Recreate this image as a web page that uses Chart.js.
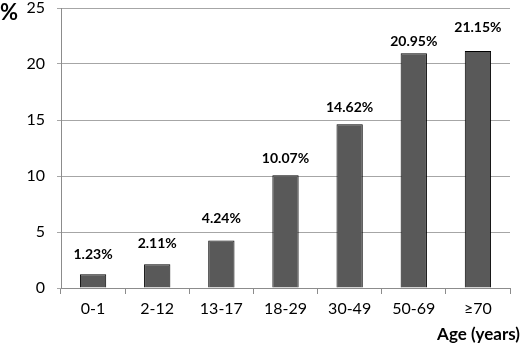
<!DOCTYPE html>
<html><head><meta charset="utf-8">
<script src="https://cdn.jsdelivr.net/npm/chart.js@4/dist/chart.umd.min.js"></script>
<style>html,body{margin:0;padding:0;background:#fff}#wrap{width:520px;height:346px}</style>
</head><body><div id="wrap"><canvas id="c" width="520" height="346"></canvas></div>
<script>
const categories = ["0-1","2-12","13-17","18-29","30-49","50-69","\u226570"];
const percentages = [1.23, 2.11, 4.24, 10.07, 14.62, 20.95, 21.15];
const valueLabels = ["1.23%","2.11%","4.24%","10.07%","14.62%","20.95%","21.15%"];
const yTicks = [0,5,10,15,20,25];
const FONT = "Lato, 'Open Sans', sans-serif";

const labelPlugin = {
  id: 'extras',
  afterDatasetsDraw(chart, args, opts) {
    const ctx = chart.ctx;
    const meta = chart.getDatasetMeta(0);
    ctx.save();
    ctx.fillStyle = '#000';
    ctx.font = 'bold 14px ' + FONT;
    ctx.textAlign = 'center';
    ctx.textBaseline = 'middle';
    meta.data.forEach((bar, i) => {
      ctx.fillText(valueLabels[i], bar.x, bar.y - opts.offsets[i]);
    });
    ctx.font = 'bold 22px ' + FONT;
    ctx.textAlign = 'left';
    ctx.fillText('%', 0, 13);
    ctx.font = 'bold 17px ' + FONT;
    ctx.textAlign = 'right';
    ctx.fillText('Age (years)', 520, 335);
    ctx.restore();
  }
};

new Chart(document.getElementById('c'), {
  type: 'bar',
  data: {
    labels: categories,
    datasets: [{
      data: percentages,
      backgroundColor: '#595959',
      borderColor: '#000',
      borderWidth: 1,
      categoryPercentage: 1,
      barPercentage: 0.41
    }]
  },
  options: {
    responsive: false,
    animation: false,
    layout: { padding: { left: 0, right: 10, top: 8, bottom: 0 } },
    plugins: {
      legend: { display: false },
      tooltip: { enabled: false },
      extras: { offsets: [20, 21, 22, 17, 17, 12, 24] }
    },
    scales: {
      x: {
        grid: { display: true, drawOnChartArea: false, drawTicks: true, tickLength: 6, color: '#8c8c8c', offset: true },
        border: { color: '#8c8c8c' },
        ticks: { color: '#000', font: { family: FONT, size: 16 }, padding: 5 },
        afterFit(s) { s.height = 58; s.paddingLeft = 0; s.paddingRight = 0; }
      },
      y: {
        min: 0, max: 25,
        afterBuildTicks(s) { s.ticks = yTicks.map(v => ({ value: v })); },
        grid: { color: '#a6a6a6', drawTicks: true, tickLength: 4 },
        border: { color: '#8c8c8c' },
        ticks: { color: '#000', font: { family: FONT, size: 16 }, padding: 12 },
        afterFit(s) { s.width = 61; s.paddingTop = 0; s.paddingBottom = 0; }
      }
    }
  },
  plugins: [labelPlugin]
});
</script></body></html>
